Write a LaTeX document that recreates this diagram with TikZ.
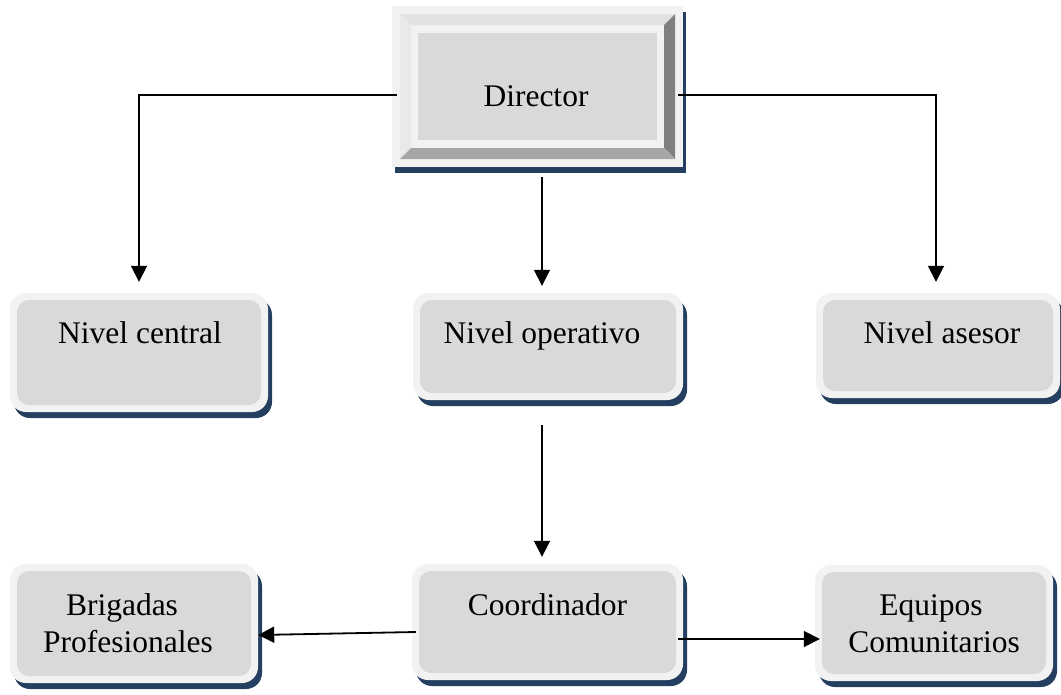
\documentclass[tikz,border=0pt]{standalone}
\usepackage{fontspec}
\setmainfont{Liberation Serif}
\usetikzlibrary{arrows.meta,shadows,calc}
\definecolor{rim}{HTML}{F2F2F2}
\definecolor{face}{HTML}{D9D9D9}
\definecolor{navy}{HTML}{243F60}
\definecolor{bevtop}{HTML}{E2E2E2}
\definecolor{bevleft}{HTML}{E9E9E9}
\definecolor{bevright}{HTML}{808080}
\definecolor{bevbottom}{HTML}{A6A6A6}
\begin{document}
\begin{tikzpicture}[x=1pt,y=-1pt,
  card/.style={rectangle, rounded corners=16pt, fill=rim, inner sep=0pt,
    drop shadow={shadow xshift=4pt, shadow yshift=-6pt, fill=navy, opacity=1},
    path picture={\fill[face, rounded corners=12pt]
      ([shift={(7pt,-7pt)}]path picture bounding box.north west) rectangle
      ([shift={(-7pt,7pt)}]path picture bounding box.south east);}},
  bevelbox/.style={rectangle, fill=rim, inner sep=0pt,
    drop shadow={shadow xshift=3pt, shadow yshift=-6pt, fill=navy, opacity=1},
    path picture={
      % top bevel
      \fill[bevtop] ([shift={(8pt,-8pt)}]path picture bounding box.north west)
        -- ([shift={(-8pt,-8pt)}]path picture bounding box.north east)
        -- ([shift={(-19pt,-19pt)}]path picture bounding box.north east)
        -- ([shift={(19pt,-19pt)}]path picture bounding box.north west) -- cycle;
      % left bevel
      \fill[bevleft] ([shift={(8pt,-8pt)}]path picture bounding box.north west)
        -- ([shift={(19pt,-19pt)}]path picture bounding box.north west)
        -- ([shift={(19pt,19pt)}]path picture bounding box.south west)
        -- ([shift={(8pt,8pt)}]path picture bounding box.south west) -- cycle;
      % right bevel
      \fill[bevright] ([shift={(-8pt,-8pt)}]path picture bounding box.north east)
        -- ([shift={(-8pt,8pt)}]path picture bounding box.south east)
        -- ([shift={(-19pt,19pt)}]path picture bounding box.south east)
        -- ([shift={(-19pt,-19pt)}]path picture bounding box.north east) -- cycle;
      % bottom bevel
      \fill[bevbottom] ([shift={(8pt,8pt)}]path picture bounding box.south west)
        -- ([shift={(-8pt,8pt)}]path picture bounding box.south east)
        -- ([shift={(-19pt,19pt)}]path picture bounding box.south east)
        -- ([shift={(19pt,19pt)}]path picture bounding box.south west) -- cycle;
      % face
      \fill[face] ([shift={(26pt,-27pt)}]path picture bounding box.north west)
        rectangle ([shift={(-26pt,27pt)}]path picture bounding box.south east);}},
  txt/.style={font=\fontsize{31.5}{37}\selectfont, inner sep=0pt, anchor=base},
  conn/.style={line width=1.8pt, -{Triangle[length=16pt,width=16pt]}}]

\useasboundingbox (0,0) rectangle (1061,694);

% boxes
\node[bevelbox, minimum width=291pt, minimum height=161pt] (dir) at (537.5,86.5) {};
\node[card, minimum width=258pt, minimum height=119pt] (central) at (139,352.5) {};
\node[card, minimum width=270pt, minimum height=107pt] (oper) at (548,346.5) {};
\node[card, minimum width=244pt, minimum height=105pt] (asesor) at (938,345.5) {};
\node[card, minimum width=271pt, minimum height=116pt] (coord) at (547.5,622) {};
\node[card, minimum width=248pt, minimum height=119pt] (brig) at (134,623.5) {};
\node[card, minimum width=238pt, minimum height=116pt] (equip) at (934,623) {};

% labels
\node[txt] (tdir) at (536,106) {Director};
\node[txt] (tcentral) at (140,343) {Nivel central};
\node[txt] (toper) at (542,343) {Nivel operativo};
\node[txt] (tasesor) at (942,343) {Nivel asesor};
\node[txt] (tcoord) at (547.5,615) {Coordinador};
\node[txt] (tbrig1) at (122,615) {Brigadas};
\node[txt] (tbrig2) at (128,652) {Profesionales};
\node[txt] (tequip1) at (931,615) {Equipos};
\node[txt] (tequip2) at (934,652) {Comunitarios};

% connectors
\draw[conn] ([xshift=5pt,yshift=-8.5pt]dir.west) -| ([yshift=11pt]central.north);
\draw[conn] ([xshift=-5pt,yshift=-8.5pt]dir.east) -| ([xshift=-2pt,yshift=11pt]asesor.north);
\draw[conn] ([xshift=4.5pt,yshift=-10pt]dir.south) -- ([xshift=-6pt,yshift=7pt]oper.north);
\draw[conn] ([xshift=-6pt,yshift=-25pt]oper.south) -- ([xshift=-5.5pt,yshift=7pt]coord.north);
\draw[conn] ([xshift=4pt,yshift=-10pt]coord.west) -- ([yshift=-11.5pt]brig.east);
\draw[conn] ([xshift=-5pt,yshift=-17pt]coord.east) -- ([xshift=5pt,yshift=-16pt]equip.west);
\end{tikzpicture}
\end{document}
